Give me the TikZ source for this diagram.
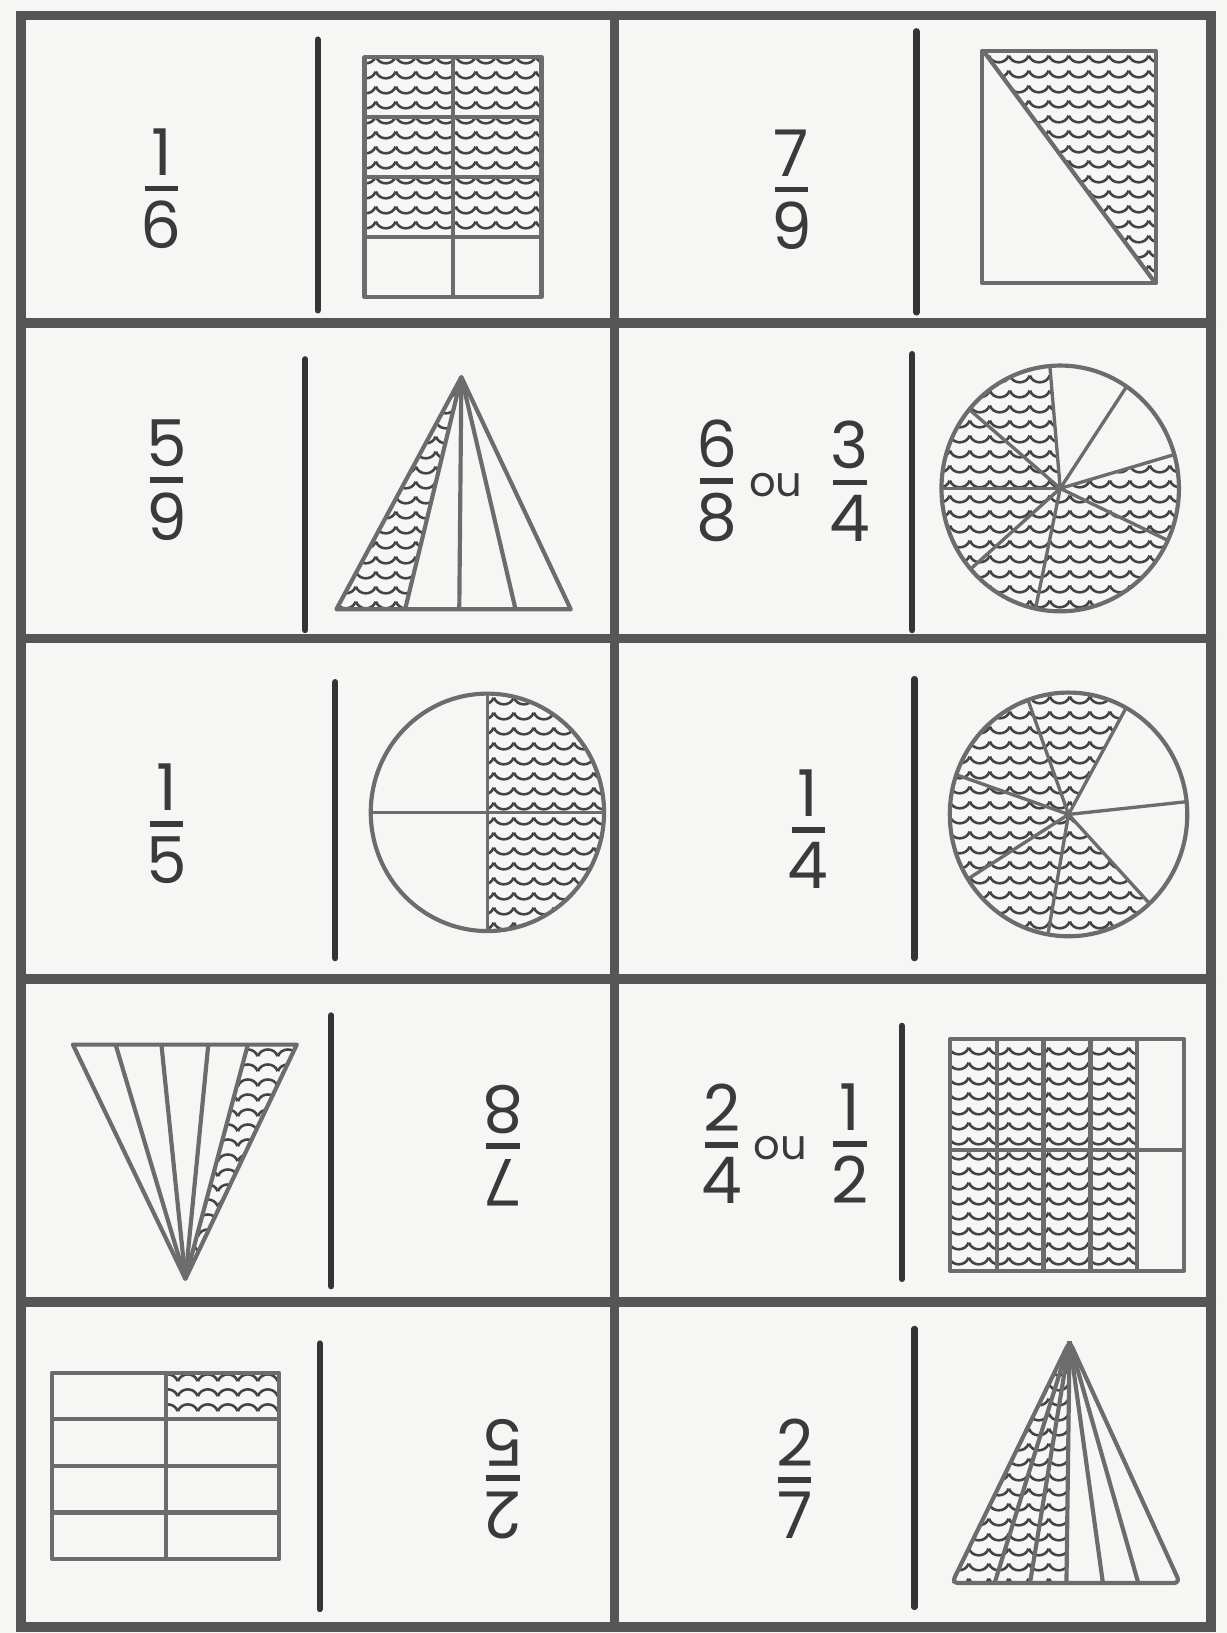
\documentclass[tikz,border=0pt]{standalone}
\usepackage{fontspec}
\setmainfont{Poppins}
\usetikzlibrary{patterns}
\definecolor{paper}{HTML}{F6F6F4}
\definecolor{gridc}{HTML}{565656}
\definecolor{sepc}{HTML}{343434}
\definecolor{shapec}{HTML}{6C6C6C}
\definecolor{inkc}{HTML}{3A3A3A}
\definecolor{wavec}{HTML}{444444}

\pgfdeclarepatternformonly{scallopup}{\pgfpointorigin}{\pgfqpoint{9.5pt}{7pt}}{\pgfqpoint{9.5pt}{7pt}}{%
  \pgfsetlinewidth{1.25pt}%
  \pgfpathmoveto{\pgfqpoint{0pt}{5.6pt}}%
  \pgfpathcurveto{\pgfqpoint{1.5pt}{1.2pt}}{\pgfqpoint{8pt}{1.2pt}}{\pgfqpoint{9.5pt}{5.6pt}}%
  \pgfusepath{stroke}}
\pgfdeclarepatternformonly{scallopdown}{\pgfpointorigin}{\pgfqpoint{9.5pt}{7pt}}{\pgfqpoint{9.5pt}{7pt}}{%
  \pgfsetlinewidth{1.25pt}%
  \pgfpathmoveto{\pgfqpoint{0pt}{1.4pt}}%
  \pgfpathcurveto{\pgfqpoint{1.5pt}{5.8pt}}{\pgfqpoint{8pt}{5.8pt}}{\pgfqpoint{9.5pt}{1.4pt}}%
  \pgfusepath{stroke}}

\newcommand\fr[2]{\vbox{\offinterlineskip\halign{\hfil##\hfil\cr #1\cr\noalign{\vskip5pt}\rule{16pt}{2.8pt}\cr\noalign{\vskip4.5pt}#2\cr}}}

\tikzset{
  gridline/.style={draw=gridc, line width=4.6pt, line cap=round},
  sepline/.style={draw=sepc, line width=3pt, line cap=round},
  shapeline/.style={draw=shapec, line width=2pt, line join=round},
  spoke/.style={draw=shapec, line width=1.6pt},
  waveup/.style={pattern=scallopup, pattern color=wavec},
  wavedown/.style={pattern=scallopdown, pattern color=wavec},
  fracn/.style={text=inkc, inner sep=0pt, font=\fontsize{31}{31}\selectfont},
  ounode/.style={text=inkc, inner sep=0pt, font=\fontsize{20}{20}\selectfont},
}

\begin{document}
\begin{tikzpicture}[x=0.5pt, y=-0.5pt]
\useasboundingbox (0,0) rectangle (1178,1568);
\fill[paper] (0,0) rectangle (1178,1568);

% ---------- row 1 ----------
\node[fracn] (f16) at (155,181) {\fr{1}{6}};
\draw[sepline] (305,38) -- (305,298);
\fill[waveup] (350,55) rectangle (520,227.5);
\draw[shapeline] (350,55) rectangle (520,285);
\draw[shapeline] (435,55) -- (435,285);
\foreach \yy in {112.5,170,227.5} \draw[shapeline] (350,\yy) -- (520,\yy);

\node[fracn] (f79) at (760,182) {\fr{7}{9}};
\draw[sepline] (880,30) -- (880,300);
\fill[waveup] (945,50) -- (1108,50) -- (1108,270) -- cycle;
\draw[shapeline] (943,49) rectangle (1110,272);
\draw[shapeline] (945,50) -- (1108,270);

% ---------- row 2 ----------
\node[fracn] (f59) at (160,461) {\fr{5}{9}};
\draw[sepline] (293,345) -- (293,605);
\fill[waveup] (443,362) -- (323,585) -- (389,585) -- cycle;
\draw[shapeline] (443,362) -- (323,585) -- (548,585) -- cycle;
\foreach \bx in {389,441,495} \draw[shapeline] (443,362) -- (\bx,585);

\node[fracn] (f68) at (688,462) {\fr{6}{8}};
\node[ounode] (ou1) at (745,466) {ou};
\node[fracn] (f34) at (816,462) {\fr{3}{4}};
\draw[sepline] (876,340) -- (876,605);
\begin{scope}[shift={(1018,469)}]
  \fill[waveup] (0,0) -- (-95:114 and 118) arc[start angle=-95, end angle=-376, x radius=114, y radius=118] -- cycle;
  \foreach \a in {-95,-56,-16,25,102,139,180,-140} \draw[spoke] (0,0) -- (\a:114 and 118);
  \draw[shapeline] (0,0) ellipse[x radius=114, y radius=118];
\end{scope}

% ---------- row 3 ----------
\node[fracn] (f15) at (160,791) {\fr{1}{5}};
\draw[sepline] (322,655) -- (322,920);
\begin{scope}[shift={(468,780)}]
  \fill[waveup] (0,0) -- (90:112 and 114) arc[start angle=90, end angle=-90, x radius=112, y radius=114] -- cycle;
  \draw[spoke] (-112,0) -- (112,0);
  \draw[spoke] (0,-114) -- (0,114);
  \draw[shapeline] (0,0) ellipse[x radius=112, y radius=114];
\end{scope}

\node[fracn] (f14) at (776,796) {\fr{1}{4}};
\draw[sepline] (878,652) -- (878,920);
\begin{scope}[shift={(1026,782)}]
  \fill[waveup] (0,0) -- (-61:114 and 117) arc[start angle=-61, end angle=-313, x radius=114, y radius=117] -- cycle;
  \foreach \a in {-110,-61,-6,47,100,148,-161} \draw[spoke] (0,0) -- (\a:114 and 117);
  \draw[shapeline] (0,0) ellipse[x radius=114, y radius=117];
\end{scope}

% ---------- row 4 ----------
\fill[wavedown] (238,1003) -- (285,1003) -- (178,1228) -- cycle;
\draw[shapeline] (70,1003) -- (285,1003) -- (178,1228) -- cycle;
\foreach \tx in {111,155,200,238} \draw[shapeline] (178,1228) -- (\tx,1003);
\draw[sepline] (318,975) -- (318,1235);
\node[fracn, rotate=180] (f78) at (483,1100) {\fr{7}{8}};

\node[fracn] (f24) at (693,1098) {\fr{2}{4}};
\node[ounode] (ou2) at (749,1102) {ou};
\node[fracn] (f12) at (816,1098) {\fr{1}{2}};
\draw[sepline] (866,985) -- (866,1228);
\fill[waveup] (912,998) rectangle (1092,1220);
\draw[shapeline] (912,998) rectangle (1137,1220);
\foreach \xx in {957,1002,1047,1092} \draw[shapeline] (\xx,998) -- (\xx,1220);
\draw[shapeline] (912,1104) -- (1137,1104);

% ---------- row 5 ----------
\fill[wavedown] (159,1318) rectangle (268,1362.75);
\draw[shapeline] (50,1318) rectangle (268,1497);
\draw[shapeline] (159,1318) -- (159,1497);
\foreach \yy in {1362.75,1407.5,1452.25} \draw[shapeline] (50,\yy) -- (268,\yy);
\draw[sepline] (307,1290) -- (307,1545);
\node[fracn, rotate=180] (f25) at (483,1420) {\fr{2}{5}};

\node[fracn] (f27) at (763,1420) {\fr{2}{7}};
\draw[sepline] (878,1276) -- (878,1543);
\fill[waveup] (1027,1288) -- (914,1520) -- (1024,1520) -- cycle;
\draw[shapeline, rounded corners=3pt] (1027,1288) -- (914,1520) -- (1133,1520) -- cycle;
\foreach \bx in {955,989,1024,1059,1093} \draw[shapeline] (1027,1288) -- (\bx,1520);

% ---------- grid ----------
\draw[gridline] (20,15) rectangle (1163,1562);
\draw[gridline] (590,15) -- (590,1562);
\foreach \yy in {310,613,940,1250} \draw[gridline] (20,\yy) -- (1163,\yy);
\end{tikzpicture}
\end{document}
